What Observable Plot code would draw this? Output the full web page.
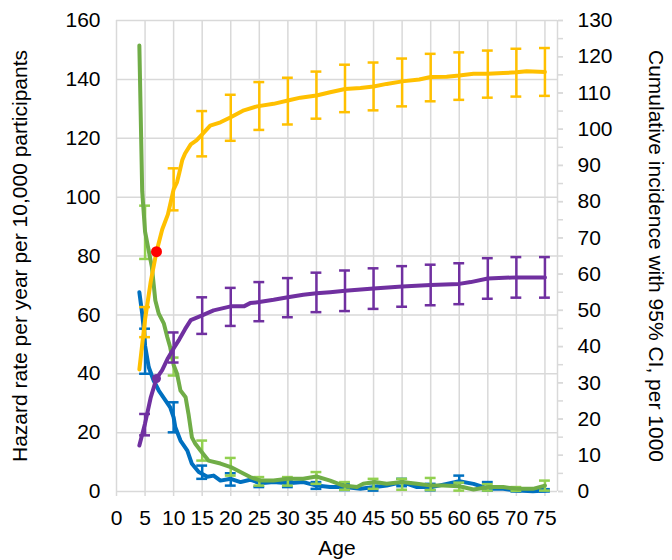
<!DOCTYPE html>
<html><head><meta charset="utf-8">
<script src="https://cdn.jsdelivr.net/npm/d3@7"></script>
<script src="https://cdn.jsdelivr.net/npm/@observablehq/plot@0.6"></script>
<style>body{margin:0;background:#fff}#chart svg{display:block}</style>
</head><body><div id="chart"></div>
<script>
// ---- Data ----
// Cumulative incidence (right axis, per 1000)
const yellowAge = [4,5,6,7,8,9,10,10.6,11,11.5,12,13,14,15,16.4,18.2,20,22.3,24.6,27.5,30,32.2,35,37.4,40,42.7,45,47.3,50,53,55,57.8,60,62.5,65,67.7,70,71.8,75];
const yellowVal = [33.7,47.5,58,66.2,72.3,76.5,83.4,85.4,88,91.4,93.3,95.8,96.9,98.6,101,101.9,103.3,105.2,106.3,107,107.9,108.7,109.3,110.2,111.1,111.4,111.8,112.5,113.2,113.7,114.4,114.5,114.8,115.3,115.3,115.5,115.7,116,115.8];
const purpleAge = [4,5,6,7,8,9,10,11,12,13,15,17,20,22.3,23.4,25,27.5,30,32.7,35,37.4,40,45,50,55,60,62,65,70,75];
const purpleVal = [12.7,18.8,26,31.2,33.5,36.8,39.5,42,44.8,47.3,48.6,50,51.1,51.1,52,52.3,52.9,53.6,54.3,54.7,55,55.4,56,56.6,57,57.3,57.8,58.8,59.1,59.1];
// Hazard rate (left axis, per 10,000 per year)
const greenAge = [4,4.5,5,5.65,6.2,6.5,6.8,7.4,8.3,8.9,9.4,10,10.6,11.2,12.1,12.6,13.2,13.8,14.7,16.1,18.2,20,21.7,23.4,25.2,27.5,30,32.7,35,37.4,39.7,42.1,43.2,45.2,47.3,50,52.6,55.2,57.2,60,62.5,65.2,67.7,70.2,72.9,75];
const greenVal = [151.5,102,88.3,81.7,76.2,70.5,64.9,60.4,57,52.4,49,43,40,34.3,32,26.4,18.4,16.2,13.9,10.5,9.5,8.3,6.6,4.9,3.7,3.7,4.3,4.3,5.1,3.7,2,1.5,2.6,3.2,2.6,3.2,2.6,2,2,1.8,0.7,1.5,1.5,0.9,0.9,2];
const blueAge = [4,4.5,4.8,5,5.65,6.5,7.4,8.6,9.4,10,10.3,11.2,12.4,13.2,14.4,15.9,17,18.2,20,21.7,23.4,25.2,27.5,30,32.7,35,37.4,40,42.7,45.2,47.3,50,52.6,55.2,57.8,60,62.5,65.2,67.7,70.2,72.9,75];
const blueVal = [67.7,60.4,54.7,49.6,42.2,37.7,34.3,30.9,28.6,25.2,21.8,17.3,13.9,9.4,6.6,5,5.4,3.7,4.3,3.2,4,2.8,3.2,2.8,3.2,2,1.5,1.5,0.9,1.5,2,3.2,1.5,1.5,2.6,3.5,2.6,0.9,0.9,0.3,0.1,0.3];

// Error bars (95% CI)
const ciAge = [5,10,15,20,25,30,35,40,45,50,55,60,65,70,75];
const yellowHi = [50.9,89.2,105,109.5,113,114.2,115.9,117.8,118.4,119.5,120.8,121.2,121.7,122.2,122.4];
const yellowLo = [42.6,77.6,92.5,96.8,99.8,101.3,102.9,104.7,105.2,106.3,107.7,108.1,108.7,109,109.2];
const purpleHi = [21.4,43.9,53.6,56.2,57.8,58.9,60.4,61,61.6,62.2,62.6,63,64.4,64.7,64.7];
const purpleLo = [15.5,35.6,43.5,45.7,47,48.1,49.5,49.8,50.4,51,51.4,51.7,53.2,53.5,53.5];
const greenHi = [97.1,45.5,17.3,11.4,4.9,4.9,6.6,3.2,4.3,4.3,4.6,3,2.5,1.5,3.7];
const greenLo = [79,39.4,10.5,5.4,2,2,2.6,0.6,0.9,0.6,0.5,0.3,0.3,0.2,0.3];
const blueHi = [55.3,30.3,8.8,6.2,3.7,3.7,3.2,2.6,2.8,4.3,2.6,5.4,3.2,1,0.8];
const blueLo = [40,20.1,4.3,2,1.5,1.5,0.9,0.5,0.3,1.8,0.4,1.6,0.3,0,0];

// Highlighted points at age 7
const markAge = [7];
const redVal = [66.2];       // on yellow curve (right axis)
const purpleDotVal = [31.2]; // on purple curve (right axis)

// Axis ticks and labels
const xTicks = d3.range(0, 76, 5);
const yTicksLeft = d3.range(0, 161, 20);
const yTicksRight = d3.range(0, 131, 10);
const yMinorRight = d3.range(0, 131, 5);
const xMax = 77.2;
const leftMax = 160, rightMax = 130;
const k = leftMax / rightMax; // right-axis units -> left-axis units

const yLabel = "Hazard rate per year per 10,000 participants";
const y2Label = "Cumulative incidence with 95% CI, per 1000";
const xLabel = "Age";

// ---- Build tables ----
const series = (ages, vals, f = 1) => ages.map((a, i) => ({age: a, v: vals[i] * f}));
const ci = (hi, lo, f = 1) => ciAge.map((a, i) => ({age: a, hi: hi[i] * f, lo: lo[i] * f}));

const yellow = series(yellowAge, yellowVal, k);
const purple = series(purpleAge, purpleVal, k);
const green = series(greenAge, greenVal);
const blue = series(blueAge, blueVal);
const yellowCI = ci(yellowHi, yellowLo, k);
const purpleCI = ci(purpleHi, purpleLo, k);
const greenCI = ci(greenHi, greenLo);
const blueCI = ci(blueHi, blueLo);

const capW = 0.95;
function errorBars(data, color, capColor = color) {
  return [
    Plot.ruleX(data, {x: "age", y1: "lo", y2: "hi", stroke: color, strokeWidth: 2.5}),
    Plot.ruleY(data, {y: "hi", x1: d => d.age - capW, x2: d => d.age + capW, stroke: capColor, strokeWidth: 2.5}),
    Plot.ruleY(data, {y: "lo", x1: d => d.age - capW, x2: d => d.age + capW, stroke: capColor, strokeWidth: 2.5})
  ];
}
const line = (data, color) => Plot.line(data, {x: "age", y: "v", stroke: color, strokeWidth: 4, strokeLinejoin: "round", strokeLinecap: "round"});

const grid = {stroke: "#d9d9d9", strokeOpacity: 1, strokeWidth: 1.5};

const chart = Plot.plot({
  width: 672, height: 560,
  marginTop: 20, marginBottom: 69, marginLeft: 116, marginRight: 115,
  style: {fontFamily: "'Liberation Sans', Arial, sans-serif", fontSize: "21px", color: "#000", background: "#fff"},
  x: {domain: [0, xMax]},
  y: {domain: [0, leftMax]},
  marks: [
    Plot.gridX(xTicks, grid),
    Plot.gridY(yTicksLeft, grid),
    Plot.ruleX([xMax], grid),
    Plot.axisX(xTicks, {tickSize: 5, tickPadding: 14, stroke: "#d9d9d9", strokeWidth: 1.5, fill: "#000", label: null}),
    Plot.axisY(yTicksLeft, {anchor: "left", tickSize: 0, tickPadding: 16, label: null, fill: "#000"}),
    Plot.axisY(yMinorRight, {anchor: "right", y: d => d * k, tickSize: 5, text: null, stroke: "#d9d9d9", strokeWidth: 1.5, label: null}),
    Plot.axisY(yTicksRight, {anchor: "right", y: d => d * k, text: d => String(d), tickSize: 5, tickPadding: 15, stroke: "#d9d9d9", strokeWidth: 1.5, fill: "#000", label: null}),
    Plot.text([yLabel], {frameAnchor: "left", textAnchor: "middle", rotate: -90, dx: -96, fill: "#000"}),
    Plot.text([y2Label], {frameAnchor: "right", textAnchor: "middle", rotate: 90, dx: 98, fill: "#000"}),
    Plot.text([xLabel], {frameAnchor: "bottom", textAnchor: "middle", dy: 57, lineAnchor: "middle", fill: "#000"}),
    ...errorBars(blueCI, "#0070C0"),
    line(blue, "#0070C0"),
    ...errorBars(greenCI, "#92D050"),
    line(green, "#70AD47"),
    ...errorBars(purpleCI, "#7030A0"),
    line(purple, "#7030A0"),
    ...errorBars(yellowCI, "#FFC000"),
    line(yellow, "#FFC000"),
    Plot.dot(markAge.map((a, i) => ({age: a, v: purpleDotVal[i] * k})), {x: "age", y: "v", r: 4.5, fill: "#7030A0", stroke: "none"}),
    Plot.dot(markAge.map((a, i) => ({age: a, v: redVal[i] * k})), {x: "age", y: "v", r: 5.5, fill: "#FF0000", stroke: "none"})
  ]
});
document.getElementById("chart").appendChild(chart);
</script>
</body></html>
